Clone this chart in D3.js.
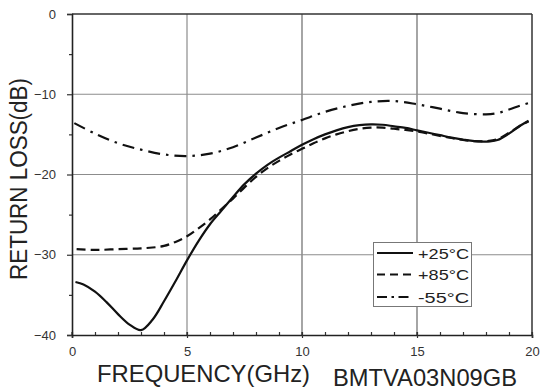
<!DOCTYPE html>
<html>
<head>
<meta charset="utf-8">
<script src="https://cdn.jsdelivr.net/npm/d3@7/dist/d3.min.js"></script>
<style>
  html, body { margin: 0; padding: 0; background: #fff; }
  svg { display: block; font-family: "Liberation Sans", Arial, sans-serif; }
</style>
</head>
<body>
<svg id="chart" width="541" height="392"></svg>
<script>
// ---- data ----
const freq25 = [0.15, 0.5, 1, 1.5, 2, 2.5, 3, 3.5, 4, 4.5, 5, 5.5, 6, 6.5, 7, 7.5, 8, 8.5, 9, 9.5, 10, 10.5, 11, 11.5, 12, 12.5, 13, 13.5, 14, 14.5, 15, 15.5, 16, 16.5, 17, 17.5, 18, 18.5, 19, 19.5, 19.85];
const rl25 = [-33.4, -33.7, -34.6, -35.9, -37.4, -38.7, -39.4, -38.1, -35.8, -33.3, -30.7, -28.3, -26.2, -24.5, -22.8, -21.2, -19.9, -18.8, -17.9, -17.1, -16.3, -15.6, -15.0, -14.5, -14.1, -13.85, -13.75, -13.8, -14.0, -14.2, -14.5, -14.8, -15.1, -15.4, -15.65, -15.85, -15.9, -15.7, -14.9, -13.9, -13.3];

const freq85 = [0.2, 1, 2, 3, 3.5, 4, 4.5, 5, 5.5, 6, 6.5, 7, 7.5, 8, 8.5, 9, 9.5, 10, 10.5, 11, 11.5, 12, 12.5, 13, 13.5, 14, 14.5, 15, 15.5, 16, 16.5, 17, 17.5, 18, 18.5, 19, 19.5, 19.85];
const rl85 = [-29.3, -29.4, -29.3, -29.2, -29.1, -28.9, -28.4, -27.7, -26.7, -25.6, -24.3, -23.0, -21.6, -20.3, -19.2, -18.3, -17.5, -16.8, -16.1, -15.5, -15.0, -14.6, -14.3, -14.15, -14.15, -14.3, -14.45, -14.65, -14.9, -15.2, -15.45, -15.7, -15.85, -15.85, -15.6, -14.8, -13.9, -13.4];

const freq55 = [0.1, 1, 2, 3, 4, 5, 6, 7, 8, 9, 10, 11, 12, 13, 14, 15, 16, 17, 18, 18.5, 19, 19.5, 19.85];
const rl55 = [-13.6, -14.9, -16.1, -16.9, -17.5, -17.7, -17.4, -16.6, -15.4, -14.2, -13.2, -12.2, -11.45, -10.95, -10.85, -11.25, -11.8, -12.35, -12.5, -12.35, -11.9, -11.4, -11.1];

const legendLabels = ["+25°C", "+85°C", "-55°C"];
const xTicks = [0, 5, 10, 15, 20];
const yTicks = [0, -10, -20, -30, -40];
const xTitle = "FREQUENCY(GHz)";
const modelName = "BMTVA03N09GB";
const yTitle = "RETURN LOSS(dB)";

// ---- layout ----
const svg = d3.select("#chart");
const L = 72, R = 532, T = 14, B = 335;
const x = d3.scaleLinear().domain([0, 20]).range([L, R]);
const y = d3.scaleLinear().domain([-40, 0]).range([B, T]);

// grid
const grid = svg.append("g");
grid.selectAll(".vg").data([5, 10, 15]).enter().append("line")
  .attr("x1", d => x(d)).attr("x2", d => x(d)).attr("y1", T).attr("y2", B)
  .attr("stroke", d => d === 5 ? "#8c8c8c" : "#6a6a6a").attr("stroke-width", 1.2);
grid.selectAll(".hg").data([-10, -20, -30]).enter().append("line")
  .attr("x1", L).attr("x2", R).attr("y1", d => y(d)).attr("y2", d => y(d))
  .attr("stroke", "#8c8c8c").attr("stroke-width", 1.2);

// frame (top / right)
svg.append("line").attr("x1", L).attr("x2", R).attr("y1", T).attr("y2", T).attr("stroke", "#333").attr("stroke-width", 1.5);
svg.append("line").attr("x1", R).attr("x2", R).attr("y1", T).attr("y2", B).attr("stroke", "#333").attr("stroke-width", 1.5);

// x axis
const xAxisMinor = d3.axisBottom(x).tickValues(d3.range(0, 21, 1)).tickSize(-3).tickFormat("");
svg.append("g").attr("transform", `translate(0,${B})`).call(xAxisMinor)
  .call(g => g.select(".domain").remove())
  .call(g => g.selectAll("line").attr("stroke", "#333").attr("stroke-width", 1.2));
const xAxis = d3.axisBottom(x).tickValues(xTicks).tickSize(3).tickPadding(9).tickFormat(d3.format("d"));
svg.append("g").attr("transform", `translate(0,${B})`).call(xAxis)
  .call(g => g.select(".domain").attr("stroke", "#222").attr("stroke-width", 1.6))
  .call(g => g.selectAll("line").attr("stroke", "#333").attr("stroke-width", 1.2))
  .call(g => g.selectAll("text").attr("font-size", 13).attr("fill", "#333")
    .attr("font-family", "'Liberation Sans', Arial, sans-serif"));
// inner part of major x ticks
svg.append("g").selectAll("line").data(xTicks).enter().append("line")
  .attr("x1", d => x(d)).attr("x2", d => x(d)).attr("y1", B - 3).attr("y2", B)
  .attr("stroke", "#333").attr("stroke-width", 1.2);

// y axis
const yAxisMinor = d3.axisLeft(y).tickValues([-5, -15, -25, -35]).tickSize(3).tickFormat("");
svg.append("g").attr("transform", `translate(${L},0)`).call(yAxisMinor)
  .call(g => g.select(".domain").remove())
  .call(g => g.selectAll("line").attr("stroke", "#333").attr("stroke-width", 1.2));
const yAxis = d3.axisLeft(y).tickValues(yTicks).tickSize(5).tickPadding(11).tickFormat(d3.format("d"));
svg.append("g").attr("transform", `translate(${L},0)`).call(yAxis)
  .call(g => g.select(".domain").attr("stroke", "#222").attr("stroke-width", 1.6))
  .call(g => g.selectAll("line").attr("stroke", "#333").attr("stroke-width", 1.2))
  .call(g => g.selectAll("text").attr("font-size", 13).attr("fill", "#333")
    .attr("font-family", "'Liberation Sans', Arial, sans-serif"));

// curves
const line = d3.line().x(d => x(d[0])).y(d => y(d[1])).curve(d3.curveCatmullRom.alpha(0.5));
const series = [
  { f: freq25, v: rl25, dash: null },
  { f: freq85, v: rl85, dash: "9,5" },
  { f: freq55, v: rl55, dash: "12,6,2.5,6" }
];
series.forEach(s => {
  svg.append("path").datum(d3.zip(s.f, s.v)).attr("d", line)
    .attr("fill", "none").attr("stroke", "#111").attr("stroke-width", 2.2)
    .attr("stroke-dasharray", s.dash);
});

// legend
const lg = svg.append("g");
lg.append("rect").attr("x", 373.5).attr("y", 242.5).attr("width", 98).attr("height", 64)
  .attr("fill", "#fff").attr("stroke", "#777").attr("stroke-width", 1);
const legendDash = [null, "8,5", "10,4.5,2.5,4.5"];
const rowY = [253, 274.5, 297];
legendLabels.forEach((lab, i) => {
  lg.append("line").attr("x1", 377).attr("x2", 413).attr("y1", rowY[i]).attr("y2", rowY[i])
    .attr("stroke", "#111").attr("stroke-width", 2).attr("stroke-dasharray", legendDash[i]);
  lg.append("text").attr("x", 418).attr("y", rowY[i] + 5.5).attr("font-size", 15.5)
    .attr("fill", "#222").attr("textLength", 51).attr("lengthAdjust", "spacingAndGlyphs").text(lab);
});

// titles
svg.append("text").attr("x", 97).attr("y", 382).attr("font-size", 24).attr("fill", "#222")
  .attr("textLength", 213).attr("lengthAdjust", "spacingAndGlyphs").text(xTitle);
svg.append("text").attr("x", 333).attr("y", 386).attr("font-size", 24).attr("fill", "#222")
  .attr("textLength", 184).attr("lengthAdjust", "spacingAndGlyphs").text(modelName);
svg.append("text").attr("transform", "translate(27,179) rotate(-90)").attr("text-anchor", "middle")
  .attr("font-size", 23).attr("fill", "#222")
  .attr("textLength", 202).attr("lengthAdjust", "spacingAndGlyphs").text(yTitle);
</script>
</body>
</html>
